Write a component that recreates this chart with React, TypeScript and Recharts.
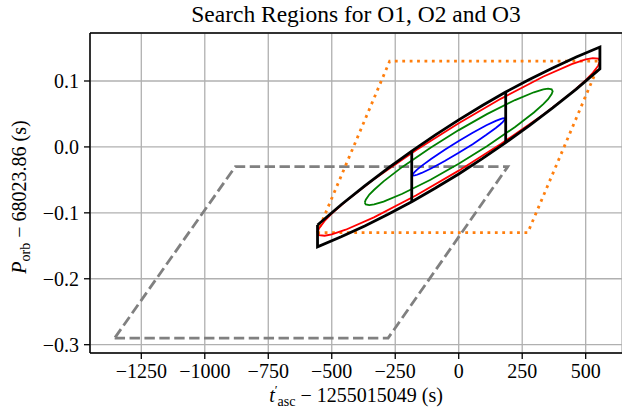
import { LineChart, Line, XAxis, YAxis, CartesianGrid } from 'recharts'

const xTicks = [-1250, -1000, -750, -500, -250, 0, 250, 500]
const yTicks = [-0.3, -0.2, -0.1, 0, 0.1]

// O1 gray dashed region
const grayRegion = [
  [-1355, -0.29], [-278, -0.29], [193, -0.03], [-880, -0.03], [-1355, -0.29],
]

// orange dotted region
const orangeRegion = [
  [-557, -0.13], [272, -0.13], [558, 0.13], [-272, 0.13], [-557, -0.13],
]

// black combined search region (outer outline)
const blackOutline = [
  [-556, -0.1185], [-463, -0.0877], [-370, -0.0592], [-278, -0.0323], [-185, -0.0065],
  [-93, 0.0178], [0, 0.041], [93, 0.0628], [185, 0.0833], [278, 0.1023],
  [370, 0.1198], [463, 0.1363], [556, 0.1515], [556, 0.1185],
  [463, 0.0877], [370, 0.0592], [278, 0.0323], [185, 0.0065], [93, -0.0178],
  [0, -0.041], [-93, -0.0628], [-185, -0.0833], [-278, -0.1023], [-370, -0.1198],
  [-463, -0.1363], [-556, -0.1515], [-556, -0.1185],
]
const blackDividerLeft = [[-185, -0.0833], [-185, -0.0065]]
const blackDividerRight = [[185, 0.0065], [185, 0.0833]]

const redEllipse = [
  [-556, -0.13], [-550, -0.1236], [-528, -0.1123], [-500, -0.1013], [-445, -0.0824],
  [-334, -0.0492], [-167, -0.0047], [0, 0.036], [167, 0.0733], [334, 0.1068],
  [445, 0.1256], [500, 0.1327], [528, 0.1347], [550, 0.1338], [556, 0.13],
  [550, 0.1236], [528, 0.1123], [500, 0.1013], [445, 0.0824], [334, 0.0492],
  [167, 0.0047], [0, -0.036], [-167, -0.0733], [-334, -0.1068], [-445, -0.1256],
  [-500, -0.1327], [-528, -0.1347], [-550, -0.1338], [-556, -0.13],
]

const greenEllipse = [
  [-370, -0.0845], [-366, -0.0801], [-352, -0.0723], [-333, -0.065], [-296, -0.0523],
  [-222, -0.0303], [-111, -0.0011], [0, 0.0255], [111, 0.0497], [222, 0.0711],
  [296, 0.0829], [333, 0.0872], [352, 0.0883], [366, 0.0873], [370, 0.0845],
  [366, 0.0801], [352, 0.0723], [333, 0.065], [296, 0.0523], [222, 0.0303],
  [111, 0.0011], [0, -0.0255], [-111, -0.0497], [-222, -0.0711], [-296, -0.0829],
  [-333, -0.0872], [-352, -0.0883], [-366, -0.0873], [-370, -0.0845],
]

const blueEllipse = [
  [-182, -0.0426], [-180, -0.0409], [-173, -0.0377], [-164, -0.0344], [-146, -0.0287],
  [-109, -0.0184], [-55, -0.0042], [0, 0.009], [55, 0.0214], [109, 0.0328],
  [146, 0.0395], [164, 0.0422], [173, 0.0433], [180, 0.0435], [182, 0.0426],
  [180, 0.0409], [173, 0.0377], [164, 0.0344], [146, 0.0287], [109, 0.0184],
  [55, 0.0042], [0, -0.009], [-55, -0.0214], [-109, -0.0328], [-146, -0.0395],
  [-164, -0.0422], [-173, -0.0433], [-180, -0.0435], [-182, -0.0426],
]

const toPts = (arr: number[][]) => arr.map(([x, y]) => ({ x, y }))

const FONT = '"Liberation Serif", "DejaVu Serif", serif'
const W = 622
const H = 411

const minus = (s: string) => s.replace('-', '\u2212')

export default function App() {
  const common = {
    dataKey: 'y',
    type: 'linear' as const,
    dot: false,
    activeDot: false,
    isAnimationActive: false,
    strokeLinejoin: 'miter' as const,
  }
  return (
    <div style={{ position: 'absolute', left: 0, top: 0, width: W, height: H, background: '#fff' }}>
      <LineChart width={W} height={H} margin={{ top: 33, right: 0, bottom: 0, left: 0 }}>
        <CartesianGrid stroke="#b0b0b0" strokeWidth={1.3} />
        <XAxis
          dataKey="x"
          type="number"
          domain={[-1452, 643]}
          ticks={xTicks}
          height={58}
          tickSize={6}
          tickMargin={5}
          tickFormatter={(v: number) => minus(String(v))}
          axisLine={{ stroke: '#000', strokeWidth: 1.5 }}
          tickLine={{ stroke: '#000', strokeWidth: 1.3 }}
          tick={{ fontFamily: FONT, fontSize: 20, fill: '#000' }}
          interval={0}
        />
        <YAxis
          type="number"
          domain={[-0.3126, 0.1728]}
          ticks={yTicks}
          width={90}
          tickSize={6}
          tickMargin={5}
          tickFormatter={(v: number) => minus(v.toFixed(1))}
          axisLine={{ stroke: '#000', strokeWidth: 1.5 }}
          tickLine={{ stroke: '#000', strokeWidth: 1.3 }}
          tick={{ fontFamily: FONT, fontSize: 20, fill: '#000' }}
          interval={0}
        />
        <Line {...common} data={toPts(grayRegion)} stroke="#808080" strokeWidth={2.8} strokeDasharray="10.4 4.5" />
        <Line {...common} data={toPts(orangeRegion)} stroke="#ff7f0e" strokeWidth={2.8} strokeDasharray="2.8 4.6" />
        <Line {...common} data={toPts(redEllipse)} stroke="#ff0000" strokeWidth={1.8} />
        <Line {...common} data={toPts(greenEllipse)} stroke="#008000" strokeWidth={1.8} />
        <Line {...common} data={toPts(blueEllipse)} stroke="#0000ff" strokeWidth={1.8} />
        <Line {...common} data={toPts(blackOutline)} stroke="#000" strokeWidth={2.8} />
        <Line {...common} data={toPts(blackDividerLeft)} stroke="#000" strokeWidth={2.8} />
        <Line {...common} data={toPts(blackDividerRight)} stroke="#000" strokeWidth={2.8} />
      </LineChart>
      <svg width={W} height={H} style={{ position: 'absolute', left: 0, top: 0, pointerEvents: 'none' }}>
        <line x1={90} y1={33} x2={622} y2={33} stroke="#000" strokeWidth={1.5} />
        <text x={356} y={22} textAnchor="middle" fontFamily={FONT} fontSize={23.5} fill="#000">
          Search Regions for O1, O2 and O3
        </text>
        <text x={356} y={402} textAnchor="middle" fontFamily={FONT} fontSize={20} fill="#000">
          <tspan fontStyle="italic">t</tspan>
          <tspan fontSize={13} dy={-8}>{'\u2032'}</tspan>
          <tspan fontSize={14} dy={12}>asc</tspan>
          <tspan dy={-4}>{' \u2212 1255015049 (s)'}</tspan>
        </text>
        <text
          x={0}
          y={0}
          transform="translate(26 197) rotate(-90)"
          textAnchor="middle"
          fontFamily={FONT}
          fontSize={20}
          fill="#000"
        >
          <tspan fontStyle="italic">P</tspan>
          <tspan fontSize={14} dy={4}>orb</tspan>
          <tspan dy={-4}>{' \u2212 68023.86 (s)'}</tspan>
        </text>
      </svg>
    </div>
  )
}
